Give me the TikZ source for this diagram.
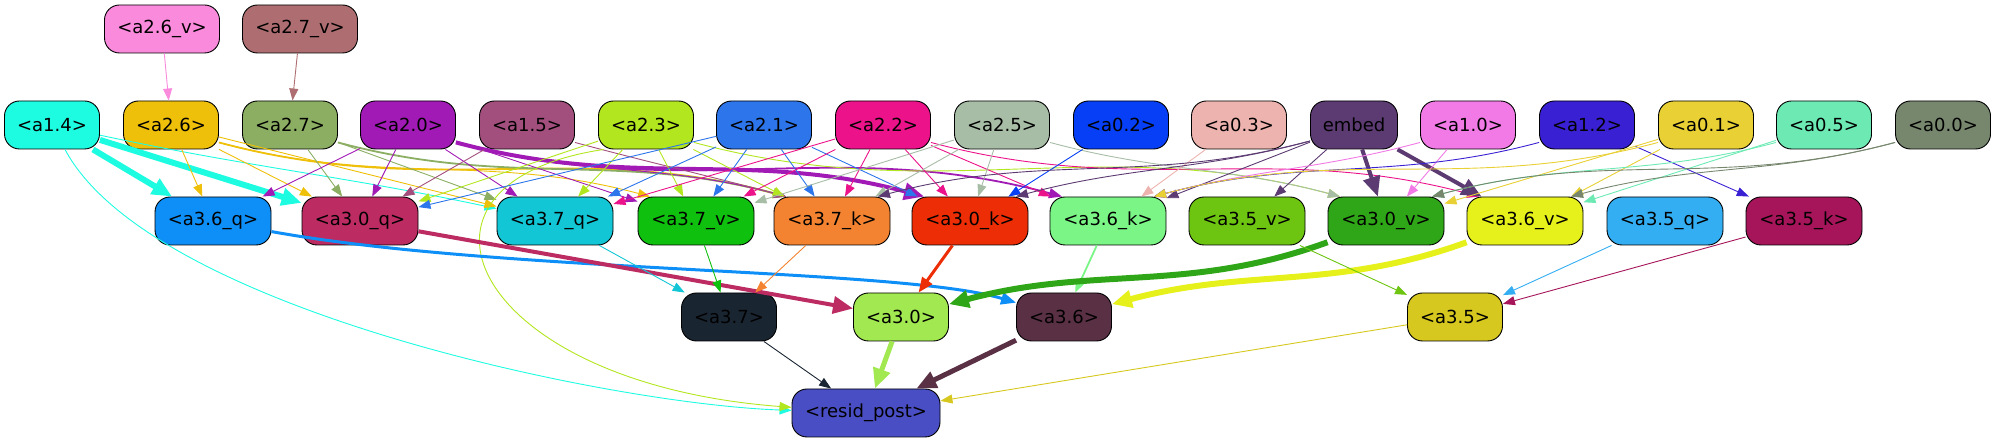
\documentclass[tikz,border=0pt]{standalone}
\usepackage{fontspec}
\setmainfont{DejaVu Sans}
\usepackage{tikz}
\usetikzlibrary{arrows.meta}
\definecolor{ca26v}{HTML}{F98ADC}
\definecolor{ca27v}{HTML}{AE6E71}
\definecolor{ca14}{HTML}{1DFCE0}
\definecolor{ca26}{HTML}{EFC00A}
\definecolor{ca27}{HTML}{8BAE62}
\definecolor{ca20}{HTML}{A11AB5}
\definecolor{ca15}{HTML}{A34F7E}
\definecolor{ca23}{HTML}{B2E61E}
\definecolor{ca21}{HTML}{2D75EB}
\definecolor{ca22}{HTML}{EC128A}
\definecolor{ca25}{HTML}{A7BDA6}
\definecolor{ca02}{HTML}{063FF5}
\definecolor{ca03}{HTML}{EDB3AE}
\definecolor{cemb}{HTML}{5C3A72}
\definecolor{ca10}{HTML}{F27AE6}
\definecolor{ca12}{HTML}{3920D2}
\definecolor{ca01}{HTML}{E8D035}
\definecolor{ca05}{HTML}{6DEAB4}
\definecolor{ca00}{HTML}{77876E}
\definecolor{ca36q}{HTML}{0E8FF7}
\definecolor{ca30q}{HTML}{BC2B62}
\definecolor{ca37q}{HTML}{12C6D6}
\definecolor{ca37v}{HTML}{10C00F}
\definecolor{ca37k}{HTML}{F38330}
\definecolor{ca30k}{HTML}{EC2D05}
\definecolor{ca36k}{HTML}{7AF586}
\definecolor{ca35v}{HTML}{6DC511}
\definecolor{ca30v}{HTML}{2FA617}
\definecolor{ca36v}{HTML}{E6F01A}
\definecolor{ca35q}{HTML}{34AEF2}
\definecolor{ca35k}{HTML}{A6155A}
\definecolor{ca37}{HTML}{1A2532}
\definecolor{ca30}{HTML}{A2E850}
\definecolor{ca36}{HTML}{5A3045}
\definecolor{ca35}{HTML}{D6C81E}
\definecolor{cres}{HTML}{4A4EC4}

\begin{document}
\begin{tikzpicture}[
  x=1pt, y=1pt,
  font=\fontsize{18}{21}\selectfont,
  nd/.style={draw=black, line width=0.9pt, rounded corners=15pt, minimum height=48pt, inner sep=2pt},
  wa/.style={nd, minimum width=95pt},
  wb/.style={nd, minimum width=116pt},
  e/.style={-{Triangle[length=12pt,width=9pt]}, line width=0.9pt},
  es/.style={-{Triangle[length=13pt,width=10pt]}, line width=1.8pt},
  em/.style={-{Triangle[length=15pt,width=12pt]}, line width=3pt},
  ew/.style={-{Triangle[length=20pt,width=17pt]}, line width=5pt},
  rside/.style={out=-15, in=165},
  lside/.style={out=-165, in=15}
]
\useasboundingbox (0,0) rectangle (1996,443);

% top row
\node[nd, minimum width=115pt, fill=ca26v] (a26v) at (162,414) {<a2.6\_v>};
\node[nd, minimum width=115pt, fill=ca27v] (a27v) at (300,414) {<a2.7\_v>};

% sources
\node[wa, fill=ca14] (a14) at (52,318) {<a1.4>};
\node[wa, fill=ca26] (a26) at (171,318) {<a2.6>};
\node[wa, fill=ca27] (a27) at (290,318) {<a2.7>};
\node[wa, fill=ca20] (a20) at (408,318) {<a2.0>};
\node[wa, fill=ca15] (a15) at (527,318) {<a1.5>};
\node[wa, fill=ca23] (a23) at (646,318) {<a2.3>};
\node[wa, fill=ca21] (a21) at (764,318) {<a2.1>};
\node[wa, fill=ca22] (a22) at (883,318) {<a2.2>};
\node[wa, fill=ca25] (a25) at (1002,318) {<a2.5>};
\node[wa, fill=ca02] (a02) at (1121,318) {<a0.2>};
\node[wa, fill=ca03] (a03) at (1239,318) {<a0.3>};
\node[wa, minimum width=87pt, fill=cemb] (emb) at (1354,318) {embed};
\node[wa, fill=ca10] (a10) at (1468,318) {<a1.0>};
\node[wa, fill=ca12] (a12) at (1587,318) {<a1.2>};
\node[wa, fill=ca01] (a01) at (1706,318) {<a0.1>};
\node[wa, fill=ca05] (a05) at (1824,318) {<a0.5>};
\node[wa, fill=ca00] (a00) at (1943,318) {<a0.0>};

% q / k / v row
\node[wb, fill=ca36q] (a36q) at (213,222) {<a3.6\_q>};
\node[wb, fill=ca30q] (a30q) at (360,222) {<a3.0\_q>};
\node[wb, fill=ca37q] (a37q) at (555,222) {<a3.7\_q>};
\node[wb, fill=ca37v] (a37v) at (696,222) {<a3.7\_v>};
\node[wb, fill=ca37k] (a37k) at (832,222) {<a3.7\_k>};
\node[wb, fill=ca30k] (a30k) at (970,222) {<a3.0\_k>};
\node[wb, fill=ca36k] (a36k) at (1108,222) {<a3.6\_k>};
\node[wb, fill=ca35v] (a35v) at (1247,222) {<a3.5\_v>};
\node[wb, fill=ca30v] (a30v) at (1386,222) {<a3.0\_v>};
\node[wb, fill=ca36v] (a36v) at (1525,222) {<a3.6\_v>};
\node[wb, fill=ca35q] (a35q) at (1665,222) {<a3.5\_q>};
\node[wb, fill=ca35k] (a35k) at (1804,222) {<a3.5\_k>};

% layer outputs
\node[wa, fill=ca37] (a37) at (729,126) {<a3.7>};
\node[wa, fill=ca30] (a30) at (901,126) {<a3.0>};
\node[wa, fill=ca36] (a36) at (1064,126) {<a3.6>};
\node[wa, fill=ca35] (a35) at (1455,126) {<a3.5>};
\node[nd, minimum width=148pt, fill=cres] (resid) at (866,30) {<resid\_post>};

% top row edges
\draw[e, ca26v] (a26v) -- (a26);
\draw[e, ca27v] (a27v) -- (a27);

% a1.4
\draw[ew, ca14, line width=6pt] (a14) -- (a36q);
\draw[ew, ca14, line width=6pt] (a14) -- (a30q);
\draw[e, ca14] (a14) to[out=-12, in=168] (a37q);
\draw[e, ca14] (a14) to[out=-62, in=178, looseness=0.6] (resid);

% a2.6
\draw[e, ca26] (a26) -- (a36q);
\draw[e, ca26] (a26) -- (a30q);
\draw[e, ca26] (a26) -- (a37q);
\draw[e, ca26] (a26.-20) to[rside] (a37v.152);
\draw[es, ca26] (a26.-20) to[rside] (a37k.152);

% a2.7
\draw[e, ca27] (a27) -- (a30q);
\draw[e, ca27] (a27) -- (a37q);
\draw[es, ca27] (a27.-20) to[rside] (a37k.152);

% a2.0
\draw[e, ca20] (a20) -- (a36q);
\draw[e, ca20] (a20) -- (a30q);
\draw[e, ca20] (a20) -- (a37q);
\draw[e, ca20] (a20) -- (a37v);
\draw[e, ca20] (a20.-20) to[rside] (a37k.152);
\draw[ew, ca20, line width=4pt] (a20.-20) to[rside] (a30k.152);
\draw[es, ca20] (a20.-20) to[rside] (a36k.152);

% a1.5
\draw[e, ca15] (a15) -- (a30q);
\draw[e, ca15] (a15.-20) to[rside] (a37k.152);

% a2.3
\draw[e, ca23] (a23) -- (a30q);
\draw[e, ca23] (a23) -- (a37q);
\draw[e, ca23] (a23) -- (a37v);
\draw[e, ca23] (a23) -- (a37k);
\draw[e, ca23] (a23.-20) to[rside] (a30v.152);
\draw[e, ca23] (a23.-150) .. controls (380,260) and (470,60) .. (resid);

% a2.1
\draw[e, ca21] (a21) -- (a30q);
\draw[e, ca21] (a21) -- (a37q);
\draw[e, ca21] (a21) -- (a37v);
\draw[e, ca21] (a21) -- (a37k);
\draw[e, ca21] (a21) -- (a30k);

% a2.2
\draw[e, ca22] (a22) -- (a37q);
\draw[e, ca22] (a22) -- (a37v);
\draw[e, ca22] (a22) -- (a37k);
\draw[e, ca22] (a22) -- (a30k);
\draw[e, ca22] (a22) -- (a36k);
\draw[e, ca22] (a22.-20) to[rside] (a36v.152);

% a2.5, a0.2, a0.3
\draw[e, ca25] (a25) -- (a37v);
\draw[e, ca25] (a25) -- (a37k);
\draw[e, ca25] (a25) -- (a30k);
\draw[e, ca25] (a25.-20) to[rside] (a30v.152);
\draw[e, ca02] (a02) -- (a30k);
\draw[e, ca03] (a03) -- (a36k);

% embed
\draw[e, cemb] (emb.-160) to[lside] (a37k.28);
\draw[e, cemb] (emb.-160) to[lside] (a30k.28);
\draw[e, cemb] (emb) -- (a36k);
\draw[e, cemb] (emb) -- (a35v);
\draw[ew, cemb, line width=4pt] (emb) -- (a30v);
\draw[ew, cemb, line width=4pt] (emb) -- (a36v);

% a1.0, a1.2, a0.1, a0.5, a0.0
\draw[e, ca10] (a10.-160) to[lside] (a36k.28);
\draw[e, ca10] (a10) -- (a30v);
\draw[e, ca12] (a12.-160) to[lside] (a36k.28);
\draw[e, ca12] (a12) -- (a35k);
\draw[e, ca01] (a01.-160) to[lside] (a36k.28);
\draw[e, ca01] (a01) -- (a30v);
\draw[e, ca01] (a01) -- (a36v);
\draw[e, ca05] (a05.-160) to[lside] (a30v.28);
\draw[e, ca05] (a05) -- (a36v);
\draw[e, ca00] (a00.-160) to[lside] (a30v.28);
\draw[e, ca00] (a00.-160) to[lside] (a36v.28);

% into the layer outputs
\draw[em, ca36q] (a36q) .. controls (500,170) and (900,175) .. (a36);
\draw[ew, ca30q, line width=4pt] (a30q) -- (a30);
\draw[e, ca37q] (a37q) -- (a37);
\draw[e, ca37v] (a37v) -- (a37);
\draw[e, ca37k] (a37k) -- (a37);
\draw[em, ca30k] (a30k) -- (a30);
\draw[es, ca36k] (a36k) -- (a36);
\draw[ew, ca30v, line width=6pt] (a30v) to[out=-160, in=15] (a30);
\draw[ew, ca36v, line width=6pt] (a36v) to[out=-160, in=15] (a36);
\draw[e, ca35v] (a35v) -- (a35);
\draw[e, ca35q] (a35q) -- (a35);
\draw[e, ca35k] (a35k) -- (a35);

% into resid_post
\draw[e, ca37] (a37) -- (resid);
\draw[ew, ca30] (a30) -- (resid);
\draw[ew, ca36] (a36) -- (resid);
\draw[e, ca35] (a35) -- (resid);
\end{tikzpicture}
\end{document}
